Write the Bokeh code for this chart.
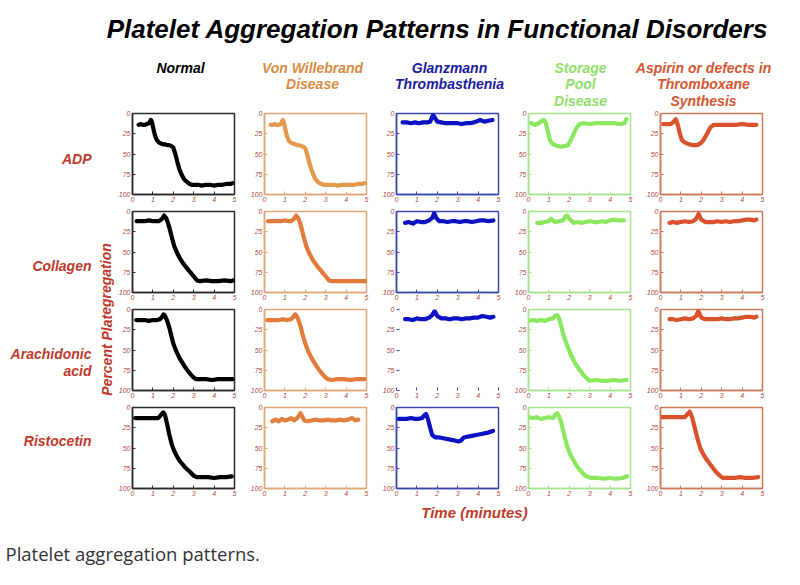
from bokeh.plotting import figure
from bokeh.layouts import column, row
from bokeh.models import Range1d, FixedTicker
from bokeh.embed import file_html
from bokeh.resources import INLINE
from bokeh.core.properties import value

# ---------------- data ----------------
TITLE = "Platelet Aggregation Patterns in Functional Disorders"
COL_HEADERS = [["Normal"], ["Von Willebrand", "Disease"], ["Glanzmann", "Thrombasthenia"],
               ["Storage", "Pool", "Disease"], ["Aspirin or defects in", "Thromboxane", "Synthesis"]]
ROW_LABELS = [["ADP"], ["Collagen"], ["Arachidonic", "acid"], ["Ristocetin"]]
Y_LABEL = "Percent Plategregation"
X_LABEL = "Time (minutes)"
CAPTION = "Platelet aggregation patterns."
X_TICKS = [0, 1, 2, 3, 4, 5]
Y_TICKS = [0, 25, 50, 75, 100]

# ADP row
ADP_NORMAL_T = [0.3,0.4,0.5,0.6,0.7,0.8,0.85,0.9,0.95,1.0,1.1,1.2,1.3,1.4,1.5,1.6,1.7,1.8,1.9,2.0,2.1,2.2,2.3,2.4,2.5,2.6,2.7,2.8,2.9,3.0,3.2,3.4,3.6,3.8,4.0,4.2,4.4,4.6,4.8,4.9]
ADP_NORMAL_Y = [14,13,14,14,13,12,10,8,10,16,27,33,36,37,38,38,39,39,40,42,50,60,69,75,80,83,85,87,88,88,88,89,88,88,89,88,88,87,87,86]
ADP_VWD_T = [0.3,0.4,0.5,0.6,0.7,0.8,0.85,0.9,0.95,1.0,1.1,1.2,1.3,1.4,1.5,1.6,1.7,1.8,1.9,2.0,2.1,2.2,2.3,2.4,2.5,2.6,2.7,2.8,2.9,3.0,3.2,3.4,3.6,3.8,4.0,4.2,4.4,4.6,4.8,4.9]
ADP_VWD_Y = [14,14,13,14,14,13,10,8,11,17,28,34,36,37,38,39,39,40,41,43,51,61,69,76,81,84,86,87,88,88,88,88,89,88,88,88,88,87,87,86]
ADP_GT_T = [0.3,0.5,0.7,0.9,1.1,1.3,1.5,1.65,1.75,1.8,1.9,2.0,2.2,2.4,2.6,2.8,3.0,3.2,3.4,3.6,3.8,4.0,4.1,4.3,4.5,4.7]
ADP_GT_Y = [11,11,12,11,12,11,11,10,4,2,6,10,11,12,12,12,12,13,12,12,11,9,8,10,9,8]
ADP_SPD_T = [0.13,0.3,0.5,0.65,0.75,0.85,0.95,1.05,1.2,1.4,1.6,1.8,1.95,2.05,2.2,2.35,2.5,2.7,3.0,3.3,3.6,3.9,4.2,4.5,4.7,4.8]
ADP_SPD_Y = [12,14,12,9,8,12,22,33,38,40,41,40,39,34,26,18,13,12,13,12,12,12,12,13,12,7]
ADP_ASA_T = [0.13,0.3,0.5,0.65,0.75,0.85,0.95,1.05,1.2,1.4,1.6,1.8,2.0,2.15,2.3,2.45,2.6,2.8,3.1,3.4,3.7,4.0,4.3,4.5,4.7]
ADP_ASA_Y = [13,13,13,10,7,14,25,33,36,38,39,39,36,31,24,17,14,14,14,14,14,13,14,14,14]

# Collagen row
COL_NORMAL_T = [0.2,0.4,0.6,0.8,1.0,1.2,1.3,1.45,1.55,1.65,1.75,1.85,1.95,2.05,2.2,2.4,2.6,2.8,3.0,3.15,3.3,3.6,3.9,4.2,4.5,4.8,4.95]
COL_NORMAL_Y = [12,12,12,11,12,12,12,9,5,8,15,24,34,43,52,61,68,74,80,85,86,85,86,86,85,86,85]
COL_VWD_T = [0.17,0.4,0.6,0.8,1.0,1.2,1.3,1.45,1.55,1.65,1.75,1.85,1.95,2.05,2.2,2.4,2.6,2.8,3.0,3.15,3.3,3.6,3.9,4.2,4.5,4.8,4.98]
COL_VWD_Y = [12,12,12,12,11,12,12,9,5,8,15,24,34,43,52,61,68,74,80,85,86,86,86,86,86,86,86]
COL_GT_T = [0.42,0.6,0.8,1.0,1.2,1.4,1.6,1.75,1.85,1.95,2.1,2.3,2.5,2.7,2.9,3.1,3.3,3.5,3.7,3.9,4.1,4.3,4.5,4.75]
COL_GT_Y = [14,13,15,12,13,13,11,8,2,8,12,12,13,12,12,13,12,12,13,12,11,11,12,11]
COL_SPD_T = [0.43,0.6,0.8,1.0,1.1,1.3,1.5,1.7,1.8,1.9,2.0,2.2,2.4,2.6,2.8,3.0,3.2,3.4,3.6,3.8,4.0,4.2,4.4,4.67]
COL_SPD_Y = [14,14,13,12,9,13,12,11,6,5,9,14,13,14,13,12,13,13,12,13,11,10,11,11]
COL_ASA_T = [0.44,0.6,0.8,1.0,1.2,1.4,1.6,1.75,1.87,2.0,2.2,2.4,2.6,2.8,3.0,3.2,3.4,3.6,3.8,4.0,4.2,4.4,4.6,4.7]
COL_ASA_Y = [14,13,14,13,12,13,12,9,3,10,13,13,13,12,13,12,13,12,12,11,10,10,11,10]

# Arachidonic acid row
AA_NORMAL_T = [0.18,0.4,0.6,0.8,1.0,1.2,1.35,1.45,1.52,1.6,1.7,1.8,1.9,2.0,2.15,2.35,2.55,2.75,2.95,3.1,3.3,3.6,3.9,4.2,4.5,4.9]
AA_NORMAL_Y = [13,13,13,14,13,13,12,9,6,8,14,22,32,42,52,62,70,77,83,86,86,86,87,86,86,86]
AA_VWD_T = [0.13,0.3,0.5,0.7,0.9,1.1,1.3,1.42,1.5,1.58,1.68,1.78,1.88,2.0,2.15,2.35,2.55,2.75,2.95,3.1,3.3,3.6,3.9,4.2,4.5,4.9]
AA_VWD_Y = [13,13,13,13,12,13,12,9,6,8,14,22,32,42,52,62,70,77,83,86,87,86,86,87,86,86]
AA_GT_T = [0.42,0.6,0.8,1.0,1.2,1.4,1.6,1.75,1.87,2.0,2.2,2.4,2.6,2.8,3.0,3.2,3.4,3.6,3.8,4.0,4.2,4.4,4.6,4.75]
AA_GT_Y = [12,12,13,11,12,12,10,7,2,8,11,11,12,11,11,12,11,11,10,10,8,9,10,9]
AA_SPD_T = [0.0,0.2,0.4,0.6,0.8,1.0,1.2,1.3,1.4,1.5,1.6,1.7,1.8,1.95,2.1,2.3,2.5,2.7,2.9,3.0,3.3,3.6,3.9,4.2,4.5,4.8]
AA_SPD_Y = [14,13,14,13,14,12,11,8,7,11,20,30,38,48,57,67,74,81,86,88,87,88,88,87,88,87]
AA_ASA_T = [0.44,0.6,0.8,1.0,1.2,1.4,1.6,1.75,1.85,2.0,2.2,2.4,2.6,2.8,3.0,3.2,3.4,3.6,3.8,4.0,4.2,4.4,4.6,4.7]
AA_ASA_Y = [12,12,13,12,11,12,11,8,2,10,12,12,12,12,11,12,12,11,11,10,9,9,10,9]

# Ristocetin row
RIS_NORMAL_T = [0.13,0.3,0.5,0.7,0.9,1.1,1.27,1.4,1.52,1.6,1.7,1.8,1.93,2.05,2.17,2.35,2.58,2.8,2.99,3.15,3.4,3.7,4.0,4.3,4.6,4.87]
RIS_NORMAL_Y = [13,13,13,13,13,13,13,9,6,10,21,33,46,54,60,67,74,79,84,86,86,86,87,86,86,85]
RIS_VWD_T = [0.38,0.55,0.7,0.85,1.0,1.15,1.3,1.45,1.6,1.7,1.76,1.85,1.95,2.1,2.3,2.5,2.7,2.9,3.1,3.3,3.5,3.7,3.9,4.1,4.3,4.45,4.6]
RIS_VWD_Y = [17,15,17,14,16,15,13,16,13,10,7,11,16,17,16,15,16,16,15,16,16,15,16,15,13,16,15]
RIS_GT_T = [0.1,0.3,0.5,0.7,0.9,1.1,1.25,1.35,1.45,1.55,1.65,1.75,1.9,2.1,2.3,2.5,2.7,2.9,3.05,3.15,3.3,3.5,3.7,3.9,4.1,4.3,4.5,4.73]
RIS_GT_Y = [14,14,14,13,14,14,13,10,8,15,25,34,37,37,38,39,40,41,42,41,37,36,35,34,33,32,31,29]
RIS_SPD_T = [0.0,0.2,0.4,0.6,0.8,1.0,1.2,1.3,1.4,1.5,1.62,1.7,1.78,1.9,2.03,2.2,2.36,2.55,2.77,2.95,3.1,3.4,3.7,4.0,4.3,4.6,4.84]
RIS_SPD_Y = [12,13,12,14,13,12,13,9,7,11,20,28,37,48,57,65,72,78,84,86,87,87,88,87,88,87,85]
RIS_ASA_T = [0.03,0.2,0.4,0.6,0.8,1.0,1.18,1.3,1.43,1.55,1.67,1.75,1.84,1.95,2.08,2.25,2.49,2.7,2.9,3.05,3.3,3.6,3.9,4.2,4.5,4.79]
RIS_ASA_Y = [12,12,12,12,12,12,12,9,5,12,24,32,41,50,57,64,72,79,84,87,87,87,86,87,87,86]

TRACES = [
    [(ADP_NORMAL_T, ADP_NORMAL_Y), (ADP_VWD_T, ADP_VWD_Y), (ADP_GT_T, ADP_GT_Y), (ADP_SPD_T, ADP_SPD_Y), (ADP_ASA_T, ADP_ASA_Y)],
    [(COL_NORMAL_T, COL_NORMAL_Y), (COL_VWD_T, COL_VWD_Y), (COL_GT_T, COL_GT_Y), (COL_SPD_T, COL_SPD_Y), (COL_ASA_T, COL_ASA_Y)],
    [(AA_NORMAL_T, AA_NORMAL_Y), (AA_VWD_T, AA_VWD_Y), (AA_GT_T, AA_GT_Y), (AA_SPD_T, AA_SPD_Y), (AA_ASA_T, AA_ASA_Y)],
    [(RIS_NORMAL_T, RIS_NORMAL_Y), (RIS_VWD_T, RIS_VWD_Y), (RIS_GT_T, RIS_GT_Y), (RIS_SPD_T, RIS_SPD_Y), (RIS_ASA_T, RIS_ASA_Y)],
]

# ---------------- styles ----------------
HEAD_COLORS = ["#000000", "#d98c42", "#1c1ca0", "#8fe06a", "#d5572f"]
LINE_COLORS = [["#000000"] * 4,
               ["#e39a4c", "#e27a3a", "#e27a3a", "#e27e3e"],
               ["#0b12c4"] * 4,
               ["#8ae85e"] * 4,
               ["#d9522b"] * 4]
BOX_COLORS = ["#2a2a2a", "#e0a878", "#3a48b0", "#a6e48e", "#cc7a5a"]
RED = "#c03a2b"
TICK_RED = "#b24a3c"
FONT = value("Liberation Sans")

PANEL_W, PANEL_H = 102, 81
BL, BR, BT, BB = 18, 12, 4, 13
LEFT_W = 114
HEAD_H = 109
FULL_W = 790


def canvas(w, h):
    f = figure(width=w, height=h, x_range=Range1d(0, w), y_range=Range1d(h, 0),
               output_backend="svg", toolbar_location=None, min_border=0,
               x_axis_location=None, y_axis_location=None)
    f.grid.visible = False
    f.outline_line_color = None
    f.background_fill_color = "white"
    f.border_fill_color = "white"
    return f


# header
header = canvas(FULL_W, HEAD_H)
header.text(x=[437], y=[28], text=[TITLE], text_font=FONT, text_font_style="bold italic",
            text_font_size="26px", text_color="black", text_align="center",
            text_baseline="alphabetic")
head_x = [180, 312, 449, 580, 703]
head_y = [67, 83.5, 100]
for j, lines in enumerate(COL_HEADERS):
    header.text(x=[head_x[j]] * len(lines), y=head_y[:len(lines)], text=lines, text_font=FONT,
                text_font_style="bold italic", text_font_size="14px", text_color=HEAD_COLORS[j],
                text_align="center", text_baseline="middle")

# left labels
grid_h = 4 * (PANEL_H + BT + BB)
left = canvas(LEFT_W, grid_h)
row_label_y = [[49], [156], [244, 261.5], [331]]
for i, lines in enumerate(ROW_LABELS):
    left.text(x=[91] * len(lines), y=row_label_y[i], text=lines, text_font=FONT,
              text_font_style="bold italic", text_font_size="14px", text_color=RED,
              text_align="right", text_baseline="middle")
left.text(x=[106], y=[210], text=[Y_LABEL], angle=1.5708, text_font=FONT,
          text_font_style="bold italic", text_font_size="14px", text_color=RED,
          text_align="center", text_baseline="middle")

# panels
rows = []
for i in range(4):
    figs = []
    for j in range(5):
        p = figure(frame_width=PANEL_W, frame_height=PANEL_H,
                   x_range=Range1d(0, 5), y_range=Range1d(100, 0),
                   min_border_left=BL, min_border_right=BR, min_border_top=BT, min_border_bottom=BB,
                   output_backend="svg", toolbar_location=None)
        p.grid.visible = False
        p.background_fill_color = "white"
        p.border_fill_color = "white"
        box = BOX_COLORS[j]
        no_box = (i == 2 and j == 2)
        p.outline_line_color = None if no_box else box
        p.outline_line_width = 1.5
        p.xaxis.ticker = FixedTicker(ticks=X_TICKS)
        p.yaxis.ticker = FixedTicker(ticks=Y_TICKS)
        for ax in (p.xaxis[0], p.yaxis[0]):
            ax.axis_line_color = None if no_box else box
            ax.axis_line_width = 1.5
            ax.major_tick_line_color = box
            ax.major_tick_in = 3
            ax.major_tick_out = 0
            ax.minor_tick_line_color = None
            ax.major_label_text_font = "Liberation Sans"
            ax.major_label_text_font_style = "italic"
            ax.major_label_text_font_size = "7px"
            ax.major_label_text_color = TICK_RED
            ax.major_label_standoff = 2
        t, y = TRACES[i][j]
        p.line(t, y, line_color=LINE_COLORS[j][i], line_width=4.2, line_join="round", line_cap="round")
        figs.append(p)
    rows.append(row(*figs))
grid = column(*rows)

# bottom
bottom = canvas(FULL_W, 76)
bottom.text(x=[474], y=[11], text=[X_LABEL], text_font=FONT, text_font_style="bold italic",
            text_font_size="15px", text_color=RED, text_align="center", text_baseline="middle")
bottom.text(x=[5], y=[52], text=[CAPTION], text_font=value("Open Sans"), text_font_size="18.5px",
            text_color="#333333", text_align="left", text_baseline="middle")

layout = column(header, row(left, grid), bottom)
open("out.html", "w").write(file_html(layout, INLINE))
